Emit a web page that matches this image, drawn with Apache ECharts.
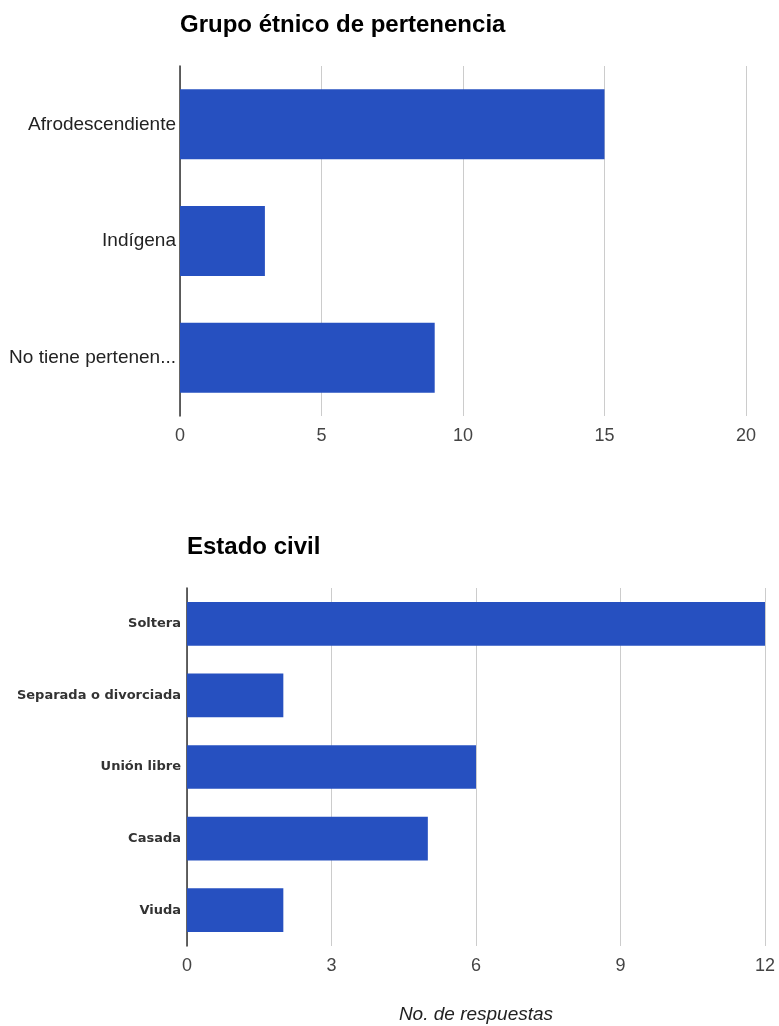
<!DOCTYPE html>
<html><head><meta charset="utf-8">
<script src="https://cdn.jsdelivr.net/npm/echarts@6/dist/echarts.min.js"></script>
<style>html,body{margin:0;padding:0;background:#fff}#c{width:779px;height:1026px}</style>
</head><body><div id="c"></div>
<script>
const titleEtnico = 'Grupo étnico de pertenencia';
const catsEtnico = ['Afrodescendiente', 'Indígena', 'No tiene pertenen...'];
const valsEtnico = [15, 3, 9];
const ticksEtnico = {min: 0, max: 20, interval: 5};

const titleCivil = 'Estado civil';
const catsCivil = ['Soltera', 'Separada o divorciada', 'Unión libre', 'Casada', 'Viuda'];
const valsCivil = [12, 2, 6, 5, 2];
const ticksCivil = {min: 0, max: 12, interval: 3};
const axisNameCivil = 'No. de respuestas';

const barColor = '#2650c0';
const chart = echarts.init(document.getElementById('c'), null, {renderer: 'canvas'});
const valueAxisBase = {
  type: 'value',
  axisLine: {show: false},
  axisTick: {show: false},
  splitLine: {lineStyle: {color: '#cccccc', width: 1}},
  axisLabel: {color: '#444', fontSize: 18, fontFamily: '"Liberation Sans Narrow", "Liberation Sans", sans-serif', margin: 11}
};
const catAxisBase = {
  type: 'category',
  inverse: true,
  axisLine: {lineStyle: {color: '#333', width: 1.5}},
  axisTick: {show: false},
  splitLine: {show: false}
};
const titleStyle = {fontSize: 24, fontWeight: 'bold', color: '#000', fontFamily: 'Liberation Sans'};
chart.setOption({
  animation: false,
  title: [
    {text: titleEtnico, left: 180, top: 13, padding: 0, textStyle: titleStyle},
    {text: titleCivil, left: 187, top: 535, padding: 0, textStyle: titleStyle}
  ],
  grid: [
    {left: 180, top: 66, width: 566, height: 350, containLabel: false, outerBoundsMode: 'none'},
    {left: 187, top: 588, width: 578, height: 358, containLabel: false, outerBoundsMode: 'none'}
  ],
  xAxis: [
    Object.assign({}, valueAxisBase, {gridIndex: 0, min: ticksEtnico.min, max: ticksEtnico.max, interval: ticksEtnico.interval}),
    Object.assign({}, valueAxisBase, {gridIndex: 1, min: ticksCivil.min, max: ticksCivil.max, interval: ticksCivil.interval,
      name: axisNameCivil, nameLocation: 'middle', nameGap: 59,
      nameTextStyle: {fontStyle: 'italic', fontSize: 19, color: '#222', fontFamily: 'Liberation Sans'}})
  ],
  yAxis: [
    Object.assign({}, catAxisBase, {gridIndex: 0, data: catsEtnico,
      axisLabel: {color: '#222', fontSize: 19, fontFamily: 'Liberation Sans', margin: 4}}),
    Object.assign({}, catAxisBase, {gridIndex: 1, data: catsCivil,
      axisLabel: {color: '#333', fontSize: 13, fontWeight: 'bold', fontFamily: 'DejaVu Sans', margin: 6}})
  ],
  series: [
    {type: 'bar', xAxisIndex: 0, yAxisIndex: 0, data: valsEtnico, barCategoryGap: '40%', itemStyle: {color: barColor}},
    {type: 'bar', xAxisIndex: 1, yAxisIndex: 1, data: valsCivil, barCategoryGap: '39%', itemStyle: {color: barColor}}
  ]
});
</script></body></html>
